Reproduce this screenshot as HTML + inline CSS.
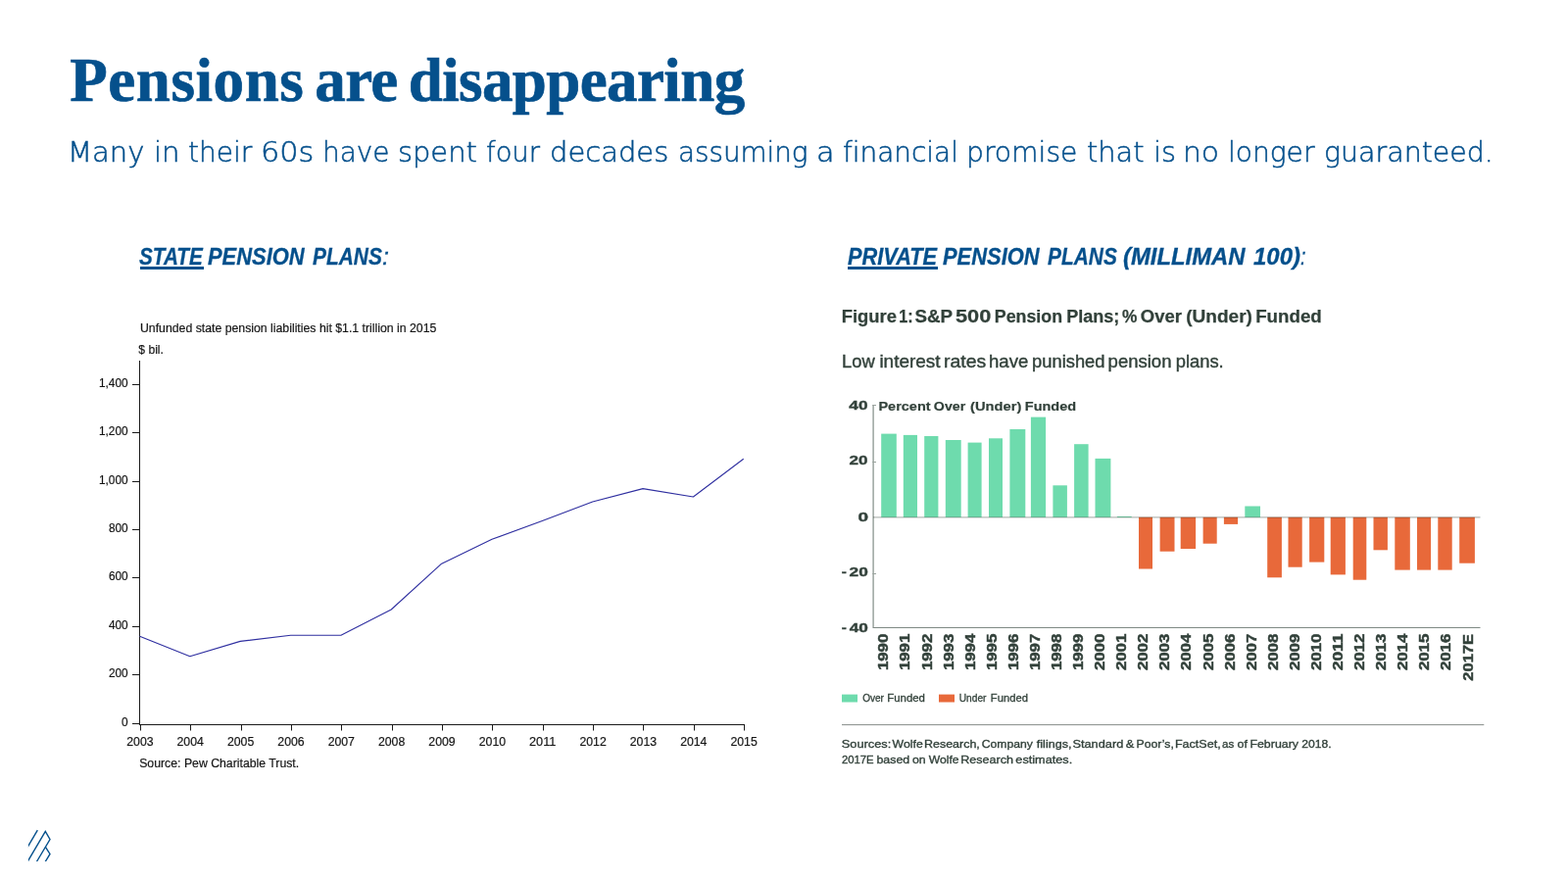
<!DOCTYPE html>
<html lang="en">
<head>
<meta charset="utf-8">
<title>Pensions are disappearing</title>
<style>
html,body{margin:0;padding:0;background:#fff;}
body{width:1600px;height:900px;position:relative;overflow:hidden;font-family:"Liberation Sans",sans-serif;}
.abs{position:absolute;white-space:nowrap;margin:0;}
h1.title{left:0;top:47.25px;font:bold 63px/71px "Liberation Serif",serif;color:#05508c;-webkit-text-stroke:0.7px #05508c;}
h1.title span{position:absolute;top:0;}
p.sub{left:0;top:138.5px;font:200 28.2px/33px "DejaVu Sans","Liberation Sans",sans-serif;color:#05508c;-webkit-text-stroke:0.5px #05508c;}
p.sub span{position:absolute;top:0;transform-origin:0 0;white-space:pre;font-variant-ligatures:none;}
h2.hd{font:italic bold 23px/28px "Liberation Sans",sans-serif;color:#05508c;-webkit-text-stroke:0.3px #05508c;left:0;top:248.1px;width:1600px;height:28px;}
h2.hd span,h2.hd u{position:absolute;top:0;transform-origin:0 0;text-decoration:none;display:block;}
h2.hd .c{font-weight:normal;}
.ul{position:absolute;height:2.4px;background:#05508c;top:272.4px;}
svg{position:absolute;left:0;top:0;}
svg text{font-family:"Liberation Sans",sans-serif;}
</style>
</head>
<body>
<h1 class="abs title"><span style="left:71.15px;letter-spacing:0.59px">Pensions </span><span style="left:321.35px;letter-spacing:-0.68px">are </span><span style="left:416.75px;letter-spacing:-0.61px">disappearing</span></h1>
<p class="abs sub"><span style="left:69.13px;transform:scaleX(1.0283)">Many </span><span style="left:156.91px;transform:scaleX(1.0300)">in </span><span style="left:191.86px;transform:scaleX(0.9946)">their </span><span style="left:266.21px;transform:scaleX(1.0746)">60s </span><span style="left:328.93px;transform:scaleX(0.9914)">have </span><span style="left:405.96px;transform:scaleX(1.0243)">spent </span><span style="left:495.93px;transform:scaleX(0.9705)">four </span><span style="left:561.04px;transform:scaleX(1.0284)">decades </span><span style="left:691.78px;transform:scaleX(0.9847)">assuming </span><span style="left:833.45px;transform:scaleX(1.0735)">a </span><span style="left:860.26px;transform:scaleX(0.9891)">financial </span><span style="left:986.00px;transform:scaleX(1.0000)">promise </span><span style="left:1108.72px;transform:scaleX(1.0227)">that </span><span style="left:1176.94px;transform:scaleX(1.0197)">is </span><span style="left:1207.44px;transform:scaleX(1.0545)">no </span><span style="left:1253.26px;transform:scaleX(0.9959)">longer </span><span style="left:1351.08px;transform:scaleX(1.0090)">guaranteed.</span></p>
<h2 class="abs hd"><u style="left:142.41px;transform:scaleX(0.8994)">STATE</u> <span style="left:212.16px;transform:scaleX(0.9520)">PENSION</span> <span style="left:318.50px;transform:scaleX(0.9085)">PLANS</span><span class="c" style="left:390.16px;transform:scaleX(1.0970)">:</span></h2>
<div class="ul" style="left:143.2px;width:64.7px"></div>
<h2 class="abs hd"><u style="left:865.31px;transform:scaleX(0.9457)">PRIVATE</u> <span style="left:962.16px;transform:scaleX(0.9520)">PENSION</span> <span style="left:1068.50px;transform:scaleX(0.9085)">PLANS</span> <span style="left:1145.87px;transform:scaleX(1.0369)">(MILLIMAN</span> <span style="left:1278.75px;transform:scaleX(1.0416)">100)</span><span class="c" style="left:1327.15px;transform:scaleX(0.8574)">:</span></h2>
<div class="ul" style="left:865px;width:91.9px"></div>
<svg width="1600" height="900" viewBox="0 0 1600 900">
<g id="state-chart" fill="#151515" stroke="#151515" stroke-width="0.2" font-size="12.5">
<text x="143" y="339.2" textLength="302.3" lengthAdjust="spacingAndGlyphs">Unfunded state pension liabilities hit $1.1 trillion in 2015</text>
<text x="141.3" y="361.4" textLength="25.6" lengthAdjust="spacingAndGlyphs">$ bil.</text>
<path d="M142.5 368 V740" stroke="#1a1a1a" stroke-width="1" fill="none"/>
<path d="M142 739.5 H760" stroke="#1a1a1a" stroke-width="1" fill="none"/>
<path d="M135 738.5 H142" stroke="#1a1a1a" stroke-width="1" fill="none"/>
<text x="130.6" y="740.8" font-size="12.7" text-anchor="end" textLength="6.6" lengthAdjust="spacingAndGlyphs">0</text>
<path d="M135 688.5 H142" stroke="#1a1a1a" stroke-width="1" fill="none"/>
<text x="130.6" y="690.8" font-size="12.7" text-anchor="end" textLength="19.7" lengthAdjust="spacingAndGlyphs">200</text>
<path d="M135 639.5 H142" stroke="#1a1a1a" stroke-width="1" fill="none"/>
<text x="130.6" y="641.8" font-size="12.7" text-anchor="end" textLength="19.7" lengthAdjust="spacingAndGlyphs">400</text>
<path d="M135 589.5 H142" stroke="#1a1a1a" stroke-width="1" fill="none"/>
<text x="130.6" y="591.8" font-size="12.7" text-anchor="end" textLength="19.7" lengthAdjust="spacingAndGlyphs">600</text>
<path d="M135 540.5 H142" stroke="#1a1a1a" stroke-width="1" fill="none"/>
<text x="130.6" y="542.8" font-size="12.7" text-anchor="end" textLength="19.7" lengthAdjust="spacingAndGlyphs">800</text>
<path d="M135 491.5 H142" stroke="#1a1a1a" stroke-width="1" fill="none"/>
<text x="130.6" y="493.8" font-size="12.7" text-anchor="end" textLength="29.6" lengthAdjust="spacingAndGlyphs">1,000</text>
<path d="M135 441.5 H142" stroke="#1a1a1a" stroke-width="1" fill="none"/>
<text x="130.6" y="443.8" font-size="12.7" text-anchor="end" textLength="29.6" lengthAdjust="spacingAndGlyphs">1,200</text>
<path d="M135 392.5 H142" stroke="#1a1a1a" stroke-width="1" fill="none"/>
<text x="130.6" y="394.8" font-size="12.7" text-anchor="end" textLength="29.6" lengthAdjust="spacingAndGlyphs">1,400</text>
<path d="M143.5 739 V745.5" stroke="#1a1a1a" stroke-width="1" fill="none"/>
<text x="142.9" y="760.6" font-size="12.7" text-anchor="middle" textLength="27.3" lengthAdjust="spacingAndGlyphs">2003</text>
<path d="M194.5 739 V745.5" stroke="#1a1a1a" stroke-width="1" fill="none"/>
<text x="194.2" y="760.6" font-size="12.7" text-anchor="middle" textLength="27.3" lengthAdjust="spacingAndGlyphs">2004</text>
<path d="M246.5 739 V745.5" stroke="#1a1a1a" stroke-width="1" fill="none"/>
<text x="245.6" y="760.6" font-size="12.7" text-anchor="middle" textLength="27.3" lengthAdjust="spacingAndGlyphs">2005</text>
<path d="M297.5 739 V745.5" stroke="#1a1a1a" stroke-width="1" fill="none"/>
<text x="297.0" y="760.6" font-size="12.7" text-anchor="middle" textLength="27.3" lengthAdjust="spacingAndGlyphs">2006</text>
<path d="M348.5 739 V745.5" stroke="#1a1a1a" stroke-width="1" fill="none"/>
<text x="348.3" y="760.6" font-size="12.7" text-anchor="middle" textLength="27.3" lengthAdjust="spacingAndGlyphs">2007</text>
<path d="M400.5 739 V745.5" stroke="#1a1a1a" stroke-width="1" fill="none"/>
<text x="399.6" y="760.6" font-size="12.7" text-anchor="middle" textLength="27.3" lengthAdjust="spacingAndGlyphs">2008</text>
<path d="M451.5 739 V745.5" stroke="#1a1a1a" stroke-width="1" fill="none"/>
<text x="451.0" y="760.6" font-size="12.7" text-anchor="middle" textLength="27.3" lengthAdjust="spacingAndGlyphs">2009</text>
<path d="M502.5 739 V745.5" stroke="#1a1a1a" stroke-width="1" fill="none"/>
<text x="502.4" y="760.6" font-size="12.7" text-anchor="middle" textLength="27.3" lengthAdjust="spacingAndGlyphs">2010</text>
<path d="M554.5 739 V745.5" stroke="#1a1a1a" stroke-width="1" fill="none"/>
<text x="553.7" y="760.6" font-size="12.7" text-anchor="middle" textLength="27.3" lengthAdjust="spacingAndGlyphs">2011</text>
<path d="M605.5 739 V745.5" stroke="#1a1a1a" stroke-width="1" fill="none"/>
<text x="605.1" y="760.6" font-size="12.7" text-anchor="middle" textLength="27.3" lengthAdjust="spacingAndGlyphs">2012</text>
<path d="M656.5 739 V745.5" stroke="#1a1a1a" stroke-width="1" fill="none"/>
<text x="656.4" y="760.6" font-size="12.7" text-anchor="middle" textLength="27.3" lengthAdjust="spacingAndGlyphs">2013</text>
<path d="M708.5 739 V745.5" stroke="#1a1a1a" stroke-width="1" fill="none"/>
<text x="707.8" y="760.6" font-size="12.7" text-anchor="middle" textLength="27.3" lengthAdjust="spacingAndGlyphs">2014</text>
<path d="M759.5 739 V745.5" stroke="#1a1a1a" stroke-width="1" fill="none"/>
<text x="759.1" y="760.6" font-size="12.7" text-anchor="middle" textLength="27.3" lengthAdjust="spacingAndGlyphs">2015</text>
<path d="M142.5 649.2 L193.8 669.7 L245.2 654.4 L296.6 648.3 L347.9 648.3 L399.2 622.0 L450.6 575.2 L502.0 550.3 L553.3 531.5 L604.7 512.0 L656.0 498.6 L707.4 507.0 L758.7 468.3" stroke="#2f2fa0" stroke-width="1.1" fill="none" stroke-linejoin="round"/>
<text x="142.2" y="782.9" textLength="163" lengthAdjust="spacingAndGlyphs">Source: Pew Charitable Trust.</text>
</g>
<g id="private-chart" fill="#32413a">
<text y="328.7" font-size="18" font-weight="bold" stroke="#32413a" stroke-width="0.25"><tspan x="858.72" textLength="56.20" lengthAdjust="spacingAndGlyphs">Figure</tspan> <tspan x="917.20" textLength="14.38" lengthAdjust="spacingAndGlyphs">1:</tspan> <tspan x="933.48" textLength="38.30" lengthAdjust="spacingAndGlyphs">S&amp;P</tspan> <tspan x="975.00" textLength="36.27" lengthAdjust="spacingAndGlyphs">500</tspan> <tspan x="1014.76" textLength="69.34" lengthAdjust="spacingAndGlyphs">Pension</tspan> <tspan x="1088.15" textLength="54.24" lengthAdjust="spacingAndGlyphs">Plans;</tspan> <tspan x="1145.12" textLength="15.38" lengthAdjust="spacingAndGlyphs">%</tspan> <tspan x="1163.83" textLength="42.06" lengthAdjust="spacingAndGlyphs">Over</tspan> <tspan x="1210.19" textLength="67.77" lengthAdjust="spacingAndGlyphs">(Under)</tspan> <tspan x="1281.20" textLength="67.60" lengthAdjust="spacingAndGlyphs">Funded</tspan></text>
<text y="375.2" font-size="17.8" stroke="#32413a" stroke-width="0.4"><tspan x="859.06" textLength="33.57" lengthAdjust="spacingAndGlyphs">Low</tspan> <tspan x="897.42" textLength="62.05" lengthAdjust="spacingAndGlyphs">interest</tspan> <tspan x="963.04" textLength="43.14" lengthAdjust="spacingAndGlyphs">rates</tspan> <tspan x="1009.00" textLength="40.25" lengthAdjust="spacingAndGlyphs">have</tspan> <tspan x="1053.11" textLength="74.36" lengthAdjust="spacingAndGlyphs">punished</tspan> <tspan x="1130.60" textLength="64.89" lengthAdjust="spacingAndGlyphs">pension</tspan> <tspan x="1199.71" textLength="48.95" lengthAdjust="spacingAndGlyphs">plans.</tspan></text>
<text y="418.7" font-size="13.6" font-weight="bold" stroke="#32413a" stroke-width="0.2"><tspan x="896.43" textLength="53.20" lengthAdjust="spacingAndGlyphs">Percent</tspan> <tspan x="952.88" textLength="32.37" lengthAdjust="spacingAndGlyphs">Over</tspan> <tspan x="990.09" textLength="52.25" lengthAdjust="spacingAndGlyphs">(Under)</tspan> <tspan x="1045.84" textLength="52.26" lengthAdjust="spacingAndGlyphs">Funded</tspan></text>
<path d="M891.1 413 V641" stroke="#9aa39e" stroke-width="1.5" fill="none"/>
<path d="M891 640.5 H1510.5" stroke="#7f8a84" stroke-width="1" fill="none"/>
<path d="M890.3 413.5 H894" stroke="#9aa39e" stroke-width="1" fill="none"/>
<path d="M890.3 471.5 H894" stroke="#9aa39e" stroke-width="1" fill="none"/>
<path d="M890.3 585.5 H894" stroke="#9aa39e" stroke-width="1" fill="none"/>
<text y="418.3" font-size="12.3" font-weight="bold" stroke="#32413a" stroke-width="0.35"><tspan x="866.35" textLength="19.16" lengthAdjust="spacingAndGlyphs">40</tspan></text>
<text y="474.4" font-size="12.3" font-weight="bold" stroke="#32413a" stroke-width="0.35"><tspan x="866.51" textLength="19.00" lengthAdjust="spacingAndGlyphs">20</tspan></text>
<text y="531.5" font-size="12.3" font-weight="bold" stroke="#32413a" stroke-width="0.35"><tspan x="875.53" textLength="10.59" lengthAdjust="spacingAndGlyphs">0</tspan></text>
<text y="588.0" font-size="12.3" font-weight="bold" stroke="#32413a" stroke-width="0.35"><tspan x="858.68" textLength="5.06" lengthAdjust="spacingAndGlyphs">-</tspan><tspan x="866.60" textLength="19.22" lengthAdjust="spacingAndGlyphs">20</tspan></text>
<text y="644.8" font-size="12.3" font-weight="bold" stroke="#32413a" stroke-width="0.35"><tspan x="858.68" textLength="5.06" lengthAdjust="spacingAndGlyphs">-</tspan><tspan x="866.65" textLength="19.16" lengthAdjust="spacingAndGlyphs">40</tspan></text>
<rect x="899.2" y="442.6" width="15.6" height="85.2" fill="#6edbad"/>
<rect x="921.8" y="443.9" width="14.2" height="83.9" fill="#6edbad"/>
<rect x="943.2" y="445.0" width="14.2" height="82.8" fill="#6edbad"/>
<rect x="964.8" y="449.0" width="15.9" height="78.8" fill="#6edbad"/>
<rect x="987.6" y="451.6" width="14.0" height="76.2" fill="#6edbad"/>
<rect x="1009.0" y="447.3" width="14.0" height="80.5" fill="#6edbad"/>
<rect x="1030.4" y="438.0" width="15.9" height="89.8" fill="#6edbad"/>
<rect x="1051.9" y="425.6" width="15.2" height="102.2" fill="#6edbad"/>
<rect x="1074.4" y="495.3" width="14.5" height="32.5" fill="#6edbad"/>
<rect x="1096.1" y="453.2" width="14.5" height="74.6" fill="#6edbad"/>
<rect x="1117.5" y="467.9" width="15.9" height="59.9" fill="#6edbad"/>
<rect x="1139.9" y="526.9" width="14.8" height="0.9" fill="#6edbad"/>
<rect x="1162.0" y="527.8" width="14.0" height="52.7" fill="#e8693a"/>
<rect x="1183.6" y="527.8" width="14.9" height="34.9" fill="#e8693a"/>
<rect x="1204.7" y="527.8" width="15.4" height="32.2" fill="#e8693a"/>
<rect x="1227.6" y="527.8" width="14.1" height="26.9" fill="#e8693a"/>
<rect x="1248.9" y="527.8" width="14.2" height="7.1" fill="#e8693a"/>
<rect x="1270.3" y="516.5" width="15.7" height="11.3" fill="#6edbad"/>
<rect x="1293.2" y="527.8" width="14.7" height="61.5" fill="#e8693a"/>
<rect x="1314.5" y="527.8" width="14.2" height="50.9" fill="#e8693a"/>
<rect x="1336.1" y="527.8" width="15.2" height="45.8" fill="#e8693a"/>
<rect x="1357.7" y="527.8" width="15.2" height="58.6" fill="#e8693a"/>
<rect x="1380.7" y="527.8" width="13.6" height="63.9" fill="#e8693a"/>
<rect x="1401.5" y="527.8" width="14.4" height="33.5" fill="#e8693a"/>
<rect x="1423.3" y="527.8" width="15.5" height="53.8" fill="#e8693a"/>
<rect x="1446.0" y="527.8" width="14.1" height="53.8" fill="#e8693a"/>
<rect x="1467.3" y="527.8" width="14.4" height="53.8" fill="#e8693a"/>
<rect x="1489.2" y="527.8" width="15.7" height="46.9" fill="#e8693a"/>
<path d="M891 527.9 H1510.5" stroke="#b3b9b5" stroke-width="1.2" fill="none" style="mix-blend-mode:multiply"/>
<text transform="translate(906.3 684.11) rotate(-90)" font-size="13.9" font-weight="bold" stroke="#32413a" stroke-width="0.45" textLength="37.40" lengthAdjust="spacingAndGlyphs">1990</text>
<text transform="translate(928.4 684.11) rotate(-90)" font-size="13.9" font-weight="bold" stroke="#32413a" stroke-width="0.45" textLength="37.40" lengthAdjust="spacingAndGlyphs">1991</text>
<text transform="translate(950.5 684.11) rotate(-90)" font-size="13.9" font-weight="bold" stroke="#32413a" stroke-width="0.45" textLength="37.40" lengthAdjust="spacingAndGlyphs">1992</text>
<text transform="translate(972.5 684.11) rotate(-90)" font-size="13.9" font-weight="bold" stroke="#32413a" stroke-width="0.45" textLength="37.40" lengthAdjust="spacingAndGlyphs">1993</text>
<text transform="translate(994.6 684.11) rotate(-90)" font-size="13.9" font-weight="bold" stroke="#32413a" stroke-width="0.45" textLength="37.40" lengthAdjust="spacingAndGlyphs">1994</text>
<text transform="translate(1016.7 684.11) rotate(-90)" font-size="13.9" font-weight="bold" stroke="#32413a" stroke-width="0.45" textLength="37.40" lengthAdjust="spacingAndGlyphs">1995</text>
<text transform="translate(1038.8 684.11) rotate(-90)" font-size="13.9" font-weight="bold" stroke="#32413a" stroke-width="0.45" textLength="37.40" lengthAdjust="spacingAndGlyphs">1996</text>
<text transform="translate(1060.9 684.11) rotate(-90)" font-size="13.9" font-weight="bold" stroke="#32413a" stroke-width="0.45" textLength="37.40" lengthAdjust="spacingAndGlyphs">1997</text>
<text transform="translate(1082.9 684.11) rotate(-90)" font-size="13.9" font-weight="bold" stroke="#32413a" stroke-width="0.45" textLength="37.40" lengthAdjust="spacingAndGlyphs">1998</text>
<text transform="translate(1105.0 684.11) rotate(-90)" font-size="13.9" font-weight="bold" stroke="#32413a" stroke-width="0.45" textLength="37.40" lengthAdjust="spacingAndGlyphs">1999</text>
<text transform="translate(1127.1 684.11) rotate(-90)" font-size="13.9" font-weight="bold" stroke="#32413a" stroke-width="0.45" textLength="37.40" lengthAdjust="spacingAndGlyphs">2000</text>
<text transform="translate(1149.2 684.11) rotate(-90)" font-size="13.9" font-weight="bold" stroke="#32413a" stroke-width="0.45" textLength="37.40" lengthAdjust="spacingAndGlyphs">2001</text>
<text transform="translate(1171.3 684.11) rotate(-90)" font-size="13.9" font-weight="bold" stroke="#32413a" stroke-width="0.45" textLength="37.40" lengthAdjust="spacingAndGlyphs">2002</text>
<text transform="translate(1193.3 684.11) rotate(-90)" font-size="13.9" font-weight="bold" stroke="#32413a" stroke-width="0.45" textLength="37.40" lengthAdjust="spacingAndGlyphs">2003</text>
<text transform="translate(1215.4 684.11) rotate(-90)" font-size="13.9" font-weight="bold" stroke="#32413a" stroke-width="0.45" textLength="37.40" lengthAdjust="spacingAndGlyphs">2004</text>
<text transform="translate(1237.5 684.11) rotate(-90)" font-size="13.9" font-weight="bold" stroke="#32413a" stroke-width="0.45" textLength="37.40" lengthAdjust="spacingAndGlyphs">2005</text>
<text transform="translate(1259.6 684.11) rotate(-90)" font-size="13.9" font-weight="bold" stroke="#32413a" stroke-width="0.45" textLength="37.40" lengthAdjust="spacingAndGlyphs">2006</text>
<text transform="translate(1281.7 684.11) rotate(-90)" font-size="13.9" font-weight="bold" stroke="#32413a" stroke-width="0.45" textLength="37.40" lengthAdjust="spacingAndGlyphs">2007</text>
<text transform="translate(1303.7 684.11) rotate(-90)" font-size="13.9" font-weight="bold" stroke="#32413a" stroke-width="0.45" textLength="37.40" lengthAdjust="spacingAndGlyphs">2008</text>
<text transform="translate(1325.8 684.11) rotate(-90)" font-size="13.9" font-weight="bold" stroke="#32413a" stroke-width="0.45" textLength="37.40" lengthAdjust="spacingAndGlyphs">2009</text>
<text transform="translate(1347.9 684.11) rotate(-90)" font-size="13.9" font-weight="bold" stroke="#32413a" stroke-width="0.45" textLength="37.40" lengthAdjust="spacingAndGlyphs">2010</text>
<text transform="translate(1370.0 684.11) rotate(-90)" font-size="13.9" font-weight="bold" stroke="#32413a" stroke-width="0.45" textLength="37.40" lengthAdjust="spacingAndGlyphs">2011</text>
<text transform="translate(1392.1 684.11) rotate(-90)" font-size="13.9" font-weight="bold" stroke="#32413a" stroke-width="0.45" textLength="37.40" lengthAdjust="spacingAndGlyphs">2012</text>
<text transform="translate(1414.1 684.11) rotate(-90)" font-size="13.9" font-weight="bold" stroke="#32413a" stroke-width="0.45" textLength="37.40" lengthAdjust="spacingAndGlyphs">2013</text>
<text transform="translate(1436.2 684.11) rotate(-90)" font-size="13.9" font-weight="bold" stroke="#32413a" stroke-width="0.45" textLength="37.40" lengthAdjust="spacingAndGlyphs">2014</text>
<text transform="translate(1458.3 684.11) rotate(-90)" font-size="13.9" font-weight="bold" stroke="#32413a" stroke-width="0.45" textLength="37.40" lengthAdjust="spacingAndGlyphs">2015</text>
<text transform="translate(1480.4 684.11) rotate(-90)" font-size="13.9" font-weight="bold" stroke="#32413a" stroke-width="0.45" textLength="37.40" lengthAdjust="spacingAndGlyphs">2016</text>
<text transform="translate(1502.5 694.69) rotate(-90)" font-size="13.9" font-weight="bold" stroke="#32413a" stroke-width="0.45" textLength="47.69" lengthAdjust="spacingAndGlyphs">2017E</text>
<rect x="859" y="708.6" width="16" height="7.9" fill="#6edbad"/>
<text y="716.1" font-size="11" stroke="#32413a" stroke-width="0.3"><tspan x="880.14" textLength="21.84" lengthAdjust="spacingAndGlyphs">Over</tspan> <tspan x="905.21" textLength="38.73" lengthAdjust="spacingAndGlyphs">Funded</tspan></text>
<rect x="958" y="708.6" width="16" height="7.9" fill="#e8693a"/>
<text y="716.1" font-size="11" stroke="#32413a" stroke-width="0.3"><tspan x="978.71" textLength="27.75" lengthAdjust="spacingAndGlyphs">Under</tspan> <tspan x="1010.88" textLength="38.05" lengthAdjust="spacingAndGlyphs">Funded</tspan></text>
<path d="M859 739.6 H1514.3" stroke="#868d89" stroke-width="1" fill="none"/>
<text y="762.6" font-size="11.8" stroke="#32413a" stroke-width="0.35"><tspan x="858.86" textLength="50.39" lengthAdjust="spacingAndGlyphs">Sources:</tspan> <tspan x="910.60" textLength="31.12" lengthAdjust="spacingAndGlyphs">Wolfe</tspan> <tspan x="942.94" textLength="56.90" lengthAdjust="spacingAndGlyphs">Research,</tspan> <tspan x="1001.74" textLength="52.02" lengthAdjust="spacingAndGlyphs">Company</tspan> <tspan x="1057.83" textLength="35.68" lengthAdjust="spacingAndGlyphs">filings,</tspan> <tspan x="1094.46" textLength="51.83" lengthAdjust="spacingAndGlyphs">Standard</tspan> <tspan x="1148.86" textLength="8.53" lengthAdjust="spacingAndGlyphs">&amp;</tspan> <tspan x="1159.56" textLength="38.33" lengthAdjust="spacingAndGlyphs">Poor’s,</tspan> <tspan x="1198.94" textLength="46.73" lengthAdjust="spacingAndGlyphs">FactSet,</tspan> <tspan x="1247.01" textLength="12.20" lengthAdjust="spacingAndGlyphs">as</tspan> <tspan x="1262.57" textLength="10.36" lengthAdjust="spacingAndGlyphs">of</tspan> <tspan x="1275.45" textLength="49.52" lengthAdjust="spacingAndGlyphs">February</tspan> <tspan x="1328.24" textLength="30.32" lengthAdjust="spacingAndGlyphs">2018.</tspan></text>
<text y="778.9" font-size="11.8" stroke="#32413a" stroke-width="0.35"><tspan x="858.92" textLength="32.69" lengthAdjust="spacingAndGlyphs">2017E</tspan> <tspan x="894.46" textLength="33.72" lengthAdjust="spacingAndGlyphs">based</tspan> <tspan x="930.98" textLength="13.67" lengthAdjust="spacingAndGlyphs">on</tspan> <tspan x="947.75" textLength="30.82" lengthAdjust="spacingAndGlyphs">Wolfe</tspan> <tspan x="980.19" textLength="53.71" lengthAdjust="spacingAndGlyphs">Research</tspan> <tspan x="1036.36" textLength="57.83" lengthAdjust="spacingAndGlyphs">estimates.</tspan></text>
</g>
<g id="logo" fill="none" stroke="#05508c" stroke-width="1.4" stroke-linejoin="miter">
<path d="M38.3 847.2 L27.4 865.6"/>
<path d="M27.3 880.6 L46.3 848.5 L51 856.5 L36.4 881"/>
<path d="M46.3 864.1 L51 871.4 L45.2 881"/>
<path d="M20 840 H28.9 V879.1 H60 V886 H20 Z" fill="#fff" stroke="none"/>
</g>
</svg>
</body>
</html>
